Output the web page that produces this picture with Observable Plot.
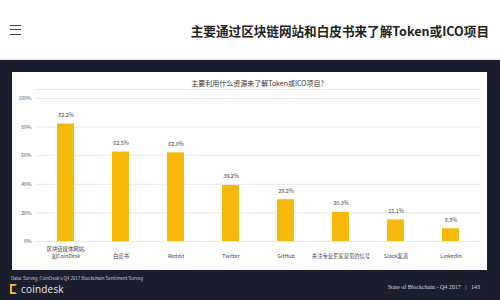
<!DOCTYPE html>
<html>
<head>
<meta charset="utf-8">
<script src="https://cdn.jsdelivr.net/npm/d3@7"></script>
<script src="https://cdn.jsdelivr.net/npm/@observablehq/plot@0.6"></script>
<style>
  html, body { margin: 0; padding: 0; width: 500px; height: 300px; overflow: hidden; font-family: "Noto Sans CJK SC", "Noto Sans", sans-serif; }
  #header { position: absolute; left: 0; top: 0; width: 500px; height: 59px; background: #fff; border-bottom: 1px solid #e6e8ee; }
  #menu { position: absolute; left: 10px; top: 25px; width: 11px; height: 8px; border-top: 1.6px solid #444; border-bottom: 1.6px solid #444; }
  #menu::after { content: ""; position: absolute; left: 0; top: 3.2px; width: 11px; border-top: 1.6px solid #444; }
  #headtitle { position: absolute; right: 11px; top: 22px; font-size: 12.6px; font-weight: bold; color: #222; white-space: nowrap; line-height: 18px; }
  #main { position: absolute; left: 0; top: 60px; width: 500px; height: 240px; background: #1b1e2c; }
  #card { position: absolute; left: 12px; top: 12px; width: 475px; height: 198px; background: #fff; }
  #cardtitle { position: absolute; left: 23px; width: 445px; top: 5px; height: 12px; border-bottom: 1px solid #ececec; text-align: center; font-size: 7px; line-height: 12px; color: #333; }
  #chart { position: absolute; left: 0; top: 20px; }
  #source { position: absolute; left: 11px; top: 215px; font-size: 4.5px; color: #c9cbd4; white-space: nowrap; }
  #logo { position: absolute; left: 10px; top: 222px; height: 14px; display: flex; align-items: center; }
  #logoicon { width: 7px; height: 10px; border: 2px solid #f1b60f; border-right-color: transparent; box-sizing: border-box; margin-right: 4px; }
  #logotext { font-family: "Open Sans", sans-serif; font-size: 10px; color: #e8e9ee; letter-spacing: 0.2px; }
  #pageinfo { position: absolute; right: 20px; top: 224px; font-family: "Liberation Serif", serif; font-size: 6px; color: #d6d8e0; white-space: nowrap; }
</style>
</head>
<body>
<div id="header"><div id="menu"></div><div id="headtitle">主要通过区块链网站和白皮书来了解Token或ICO项目</div></div>
<div id="main">
  <div id="card">
    <div id="cardtitle">主要利用什么资源来了解Token或ICO项目?</div>
    <div id="chart"></div>
  </div>
  <div id="source">Data: Survey, CoinDesk's Q4 2017 Blockchain Sentiment Survey</div>
  <div id="logo"><div id="logoicon"></div><div id="logotext">coindesk</div></div>
  <div id="pageinfo">State of Blockchain - Q4 2017 &nbsp;&nbsp;|&nbsp;&nbsp; 143</div>
</div>
<script>
const categories = ["区块链媒体网站,\n如CoinDesk", "白皮书", "Reddit", "Twitter", "GitHub", "关注专业买家意见的信号", "Slack渠道", "LinkedIn"];
const values = [82.2, 62.5, 62.0, 39.2, 29.2, 20.3, 15.1, 8.9];
const yTicks = [0, 20, 40, 60, 80, 100];

const data = categories.map((c, i) => ({category: c, value: values[i]}));

const chart = Plot.plot({
  width: 475,
  height: 175,
  marginTop: 6,
  marginBottom: 26,
  marginLeft: 24,
  marginRight: 7,
  style: {fontFamily: "'Noto Sans CJK SC', 'Noto Sans', sans-serif", background: "transparent"},
  x: {domain: categories, paddingInner: 0.69, paddingOuter: 0.345, label: null, axis: null},
  y: {domain: [0, 100], label: null},
  marks: [
    Plot.gridY(yTicks, {stroke: "#e4e4e4", strokeOpacity: 1, strokeWidth: 0.8}),
    Plot.axisY(yTicks, {tickSize: 0, tickPadding: 5, fontSize: 5, fill: "#555", tickFormat: d => d + "%", label: null}),
    Plot.barY(data, {x: "category", y: "value", fill: "#f6b80b"}),
    Plot.text(data, {x: "category", y: "value", text: d => d.value.toFixed(1) + "%", dy: -9, fontSize: 5.5, fill: "#444"}),
    Plot.text(categories, {x: d => d, text: d => d, frameAnchor: "bottom", lineAnchor: "bottom", lineHeight: 1.3, dy: 16, fontSize: 5.3, fill: "#444"})
  ]
});
document.getElementById("chart").appendChild(chart);
</script>
</body>
</html>
